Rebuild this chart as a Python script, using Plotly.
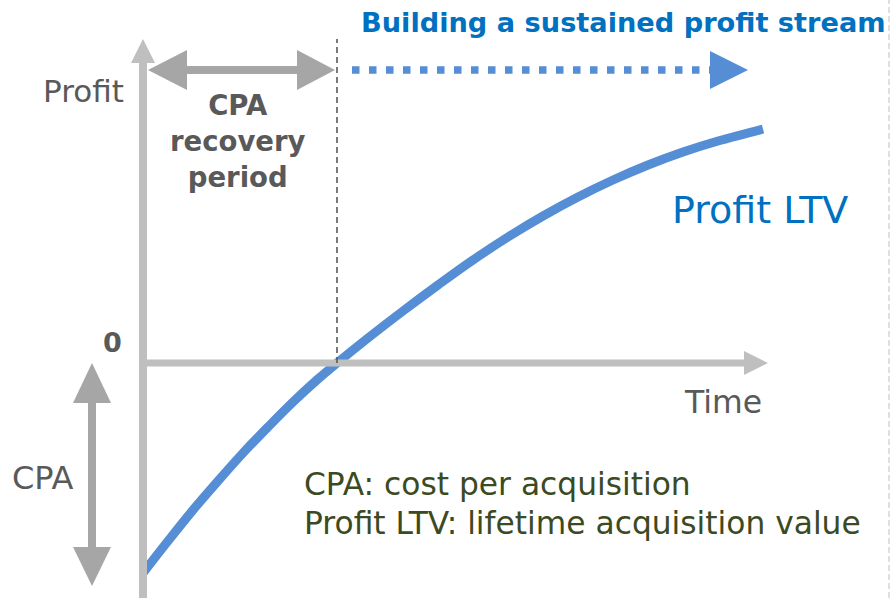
import plotly.graph_objects as go

# ---- data (arbitrary units) ----
time_vals = [0, 25, 50, 75, 100, 125, 150, 175, 194, 225, 260, 295, 330, 365,
             400, 435, 470, 505, 540, 575, 620]
profit_ltv = [-210, -178, -147, -118, -90, -64, -39, -16, 0, 25, 52, 78, 103, 126,
              147, 166, 183, 198, 211, 222, 234]
breakeven_time = 194
cpa_value = 210

title_text = "Building a sustained profit stream"
y_label = "Profit"
x_label = "Time"
zero_label = "0"
cpa_label = "CPA"
period_label = "CPA<br>recovery<br>period"
series_label = "Profit LTV"
note_lines = ["CPA: cost per acquisition", "Profit LTV: lifetime acquisition value"]

# ---- styles ----
FONT = "DejaVu Sans"
AXIS_C = "#BFBFBF"
ARROW_C = "#A6A6A6"
BLUE = "#558ED5"
BLUE_TXT = "#0070C0"
GRAY_TXT = "#595959"
OLIVE = "#3B4A22"

X_RANGE = [-143, 747]
Y_RANGE = [-235, 363]

fig = go.Figure()

shapes = []


def tri(tip, base, half, color):
    (tx, ty), (bx, by) = tip, base
    if tx == bx:  # vertical
        p = f"M {tx} {ty} L {bx-half} {by} L {bx+half} {by} Z"
    else:
        p = f"M {tx} {ty} L {bx} {by-half} L {bx} {by+half} Z"
    shapes.append(dict(type="path", path=p, xref="x", yref="y", fillcolor=color,
                       line=dict(width=0), layer="above"))


def seg(x0, y0, x1, y1, color, width, dash="solid", layer="above"):
    shapes.append(dict(type="line", x0=x0, y0=y0, x1=x1, y1=y1, xref="x", yref="y",
                       line=dict(color=color, width=width, dash=dash), layer=layer))


# axes
seg(0, Y_RANGE[0], 0, 300, AXIS_C, 8)
tri((0, 324), (0, 300), 12, AXIS_C)
seg(0, 0, 603, 0, AXIS_C, 7)
tri((625, 0), (601, 0), 12, AXIS_C)

# break-even dashed line
seg(breakeven_time, 0, breakeven_time, 324, GRAY_TXT, 1.6, dash="6px,4px")
# right edge light dashed line
seg(746, Y_RANGE[0], 746, Y_RANGE[1], "#BFBFBF", 1, dash="6px,3px")

# recovery period double arrow
arr_y = 293
seg(40, arr_y, 158, arr_y, ARROW_C, 8)
tri((5, arr_y), (44, arr_y), 20, ARROW_C)
tri((breakeven_time - 2, arr_y), (breakeven_time - 40, arr_y), 20, ARROW_C)

# blue dotted arrow
seg(209, arr_y, 569, arr_y, BLUE, 7.5, dash="7.5px,9.5px")
tri((605, arr_y), (567, arr_y), 19, BLUE)

# CPA vertical double arrow
cx = -51
seg(cx, -37, cx, -cpa_value + 22, ARROW_C, 8)
tri((cx, 0), (cx, -40), 19, ARROW_C)
tri((cx, -cpa_value - 13), (cx, -cpa_value + 26), 19, ARROW_C)

# the curve
fig.add_trace(go.Scatter(x=time_vals, y=profit_ltv, mode="lines",
                         line=dict(color=BLUE, width=9, shape="spline"),
                         hoverinfo="skip"))

ann = []


def txt(x, y, t, size, color, xanchor="left", bold=False, yanchor="middle"):
    ann.append(dict(x=x, y=y, xref="x", yref="y", text=(f"<b>{t}</b>" if bold else t),
                    showarrow=False, xanchor=xanchor, yanchor=yanchor,
                    font=dict(family=FONT, size=size, color=color)))


txt(216, 341, title_text, 27.2, BLUE_TXT, bold=True)
txt(-17, 272, y_label, 31, GRAY_TXT, xanchor="right")
txt(95, 222, period_label, 27.5, GRAY_TXT, xanchor="center", bold=True)
txt(527, 153, series_label, 38, BLUE_TXT)
txt(-19, 21, zero_label, 27, GRAY_TXT, xanchor="right", bold=True)
txt(621, -39, x_label, 31.5, GRAY_TXT, xanchor="right")
txt(-100, -115, cpa_label, 32, GRAY_TXT, xanchor="center")
txt(159, -121, note_lines[0], 31.3, OLIVE)
txt(159, -160, note_lines[1], 31.3, OLIVE)

fig.update_layout(
    width=890, height=598,
    margin=dict(l=0, r=0, t=0, b=0),
    paper_bgcolor="white", plot_bgcolor="white",
    showlegend=False,
    xaxis=dict(range=X_RANGE, visible=False, fixedrange=True),
    yaxis=dict(range=Y_RANGE, visible=False, fixedrange=True),
    shapes=shapes, annotations=ann,
)

fig.write_html("out.html", config={"displayModeBar": False},
               post_script="document.body.style.margin='0';")
